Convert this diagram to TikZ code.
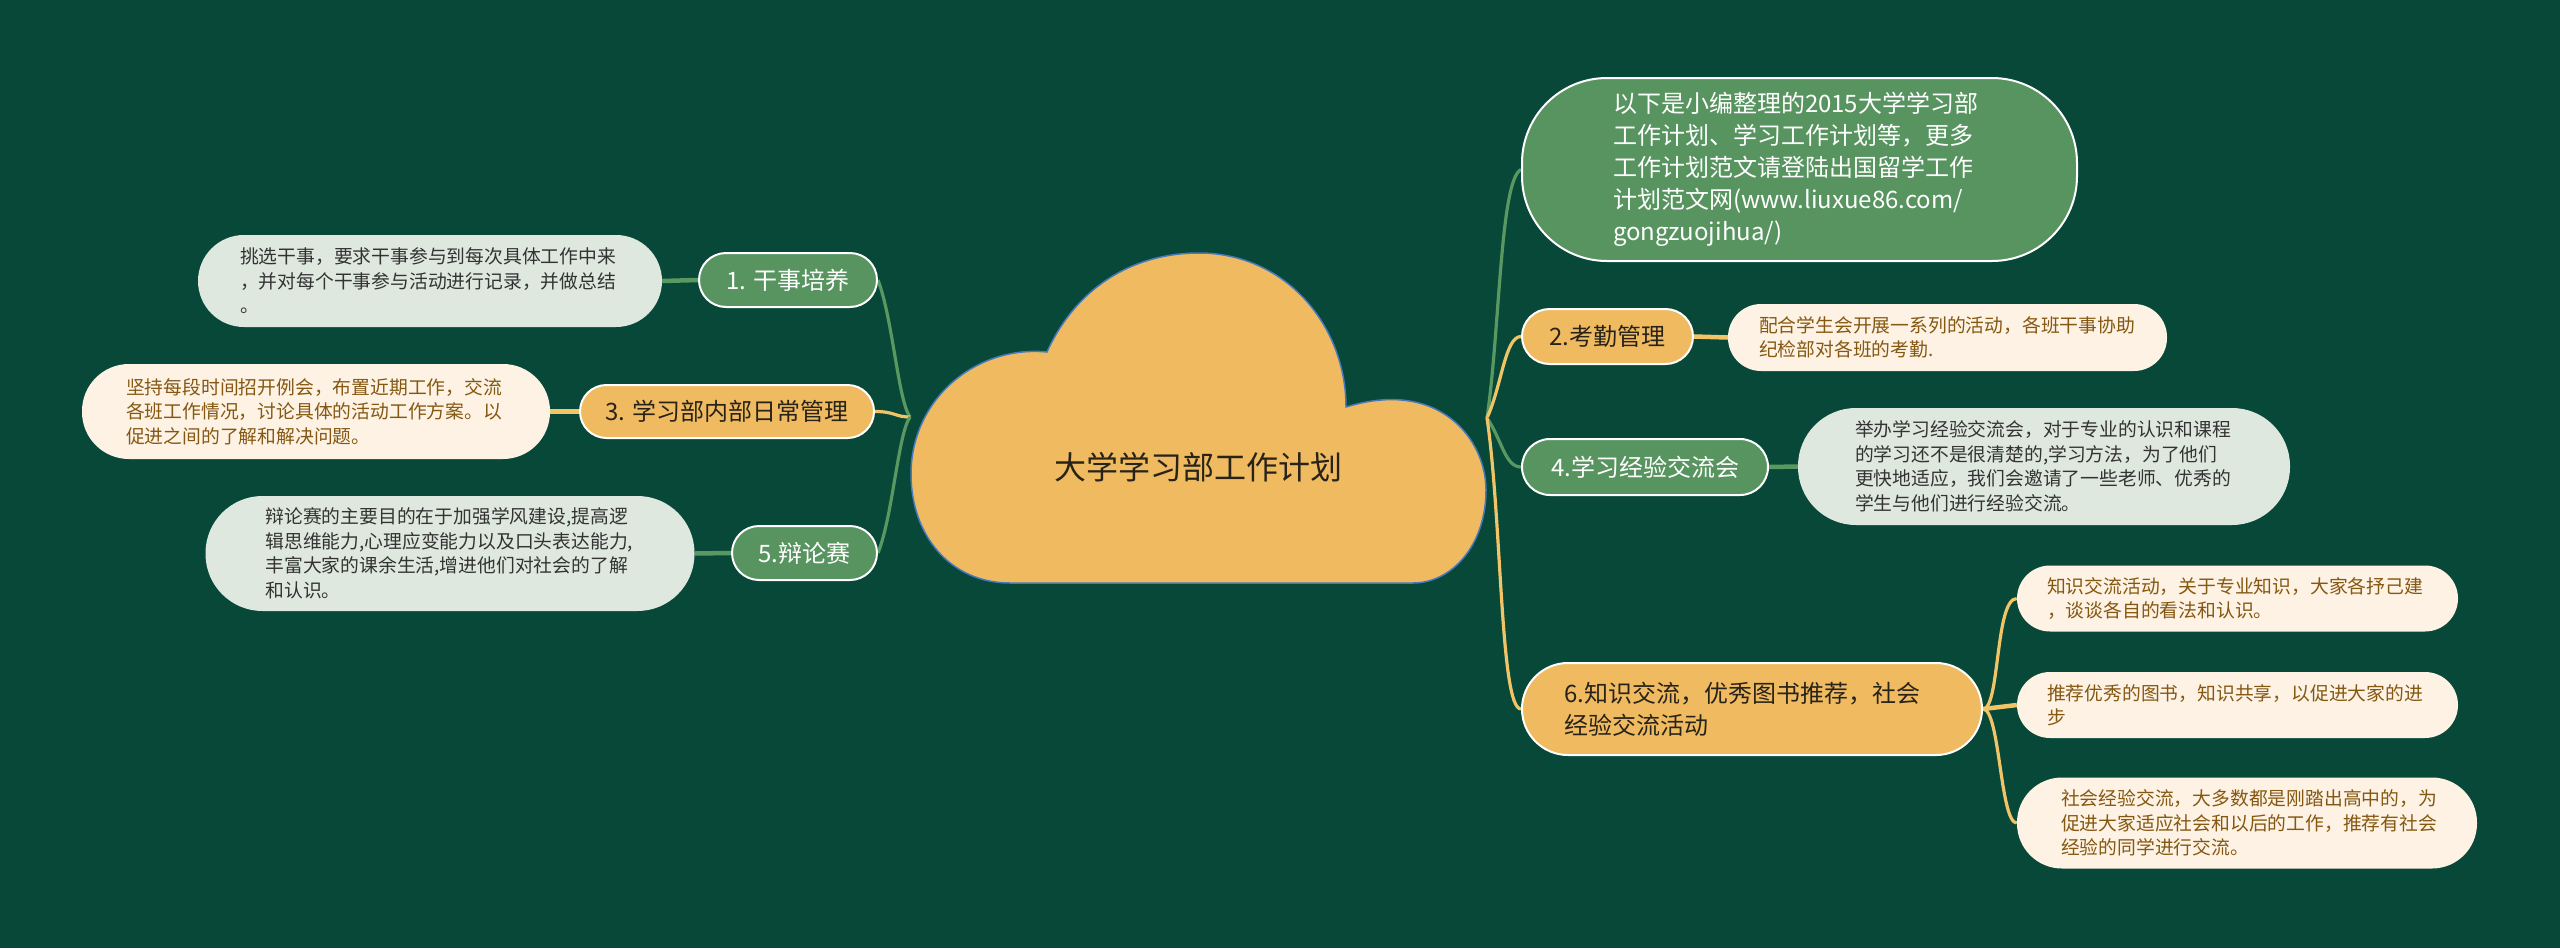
\documentclass[tikz,border=0pt]{standalone}
\usepackage{fontspec}
\newfontfamily\cjk{Noto Sans CJK SC}
\definecolor{bgc}{RGB}{7,72,57}
\definecolor{ngreen}{RGB}{88,148,96}
\definecolor{norange}{RGB}{240,187,96}
\definecolor{lgreen}{RGB}{222,232,223}
\definecolor{cream}{RGB}{253,242,227}
\definecolor{brownt}{RGB}{133,88,18}
\definecolor{ltext}{RGB}{51,51,51}
\definecolor{ntext}{RGB}{40,35,25}
\definecolor{cgreen}{RGB}{90,152,98}
\definecolor{corange}{RGB}{242,196,104}
\definecolor{cloudblue}{RGB}{70,120,190}
\pgfdeclarelayer{back}
\pgfsetlayers{back,main}
\tikzset{
  pill/.style={draw=white, line width=2pt, inner sep=0pt},
  mainfont/.style={font=\cjk\fontsize{24}{32}\selectfont},
  greenbox/.style={pill, mainfont, fill=ngreen, text=white, align=center},
  orangebox/.style={pill, mainfont, fill=norange, text=ntext, align=center},
  leafbox/.style={inner ysep=0pt, align=left, font=\cjk\fontsize{18.8}{24.5}\selectfont},
  lgleaf/.style={leafbox, fill=lgreen, text=ltext},
  crleaf/.style={leafbox, fill=cream, text=brownt},
  glink/.style={draw=cgreen, line width=3.2pt},
  olink/.style={draw=corange, line width=3.2pt},
  glinkb/.style={draw=cgreen, line width=4.5pt},
  olinkb/.style={draw=corange, line width=4.5pt},
}
\begin{document}
\begin{tikzpicture}[x=1pt,y=-1pt]
\useasboundingbox (0,0) rectangle (2560,948);
\begin{pgfonlayer}{back}
\fill[bgc] (0,0) rectangle (2560,948);
\end{pgfonlayer}
% cloud
\draw[fill=norange, draw=cloudblue, line width=1.5pt]
  (1010,583) .. controls (950,583) and (911,535) .. (911,474)
  .. controls (911,400) and (975,345) .. (1047,352)
  .. controls (1075,290) and (1130,253) .. (1199,253)
  .. controls (1285,253) and (1346,325) .. (1346,407)
  .. controls (1440,378) and (1486,440) .. (1486,490)
  .. controls (1486,545) and (1452,583) .. (1413,583) -- cycle;
\node[font=\cjk\fontsize{32}{36}\selectfont, text=ntext] (root) at (1198,467) {大学学习部工作计划};
\coordinate (jl) at (910,417);
\coordinate (jr) at (1487,418);
% left branches
\node[greenbox, minimum width=178pt, minimum height=54pt, rounded corners=27pt] (n1) at (788,280) {1. 干事培养};
\node[lgleaf, text width=380pt, inner xsep=42pt, minimum height=92pt, rounded corners=46pt] (l1) at (430,281)
  {挑选干事，要求干事参与到每次具体工作中来\\，并对每个干事参与活动进行记录，并做总结\\。};
\node[orangebox, minimum width=294pt, minimum height=53pt, rounded corners=26.5pt] (n3) at (727,411.5) {3. 学习部内部日常管理};
\node[crleaf, text width=380pt, inner xsep=44pt, minimum height=95pt, rounded corners=47pt] (l3) at (316,411.5)
  {坚持每段时间招开例会，布置近期工作，交流\\各班工作情况，讨论具体的活动工作方案。以\\促进之间的了解和解决问题。};
\node[greenbox, minimum width=145pt, minimum height=54pt, rounded corners=27pt] (n5) at (804.5,553) {5.辩论赛};
\node[lgleaf, text width=369pt, inner xsep=60pt, minimum height=115pt, rounded corners=57pt] (l5) at (450,553.5)
  {辩论赛的主要目的在于加强学风建设,提高逻\\辑思维能力,心理应变能力以及口头表达能力,\\丰富大家的课余生活,增进他们对社会的了解\\和认识。};
% right branches
\node[pill, mainfont, fill=ngreen, text=white, align=left, text width=373pt, inner xsep=91pt, minimum height=183pt, rounded corners=85pt] (a) at (1799.5,169.5)
  {以下是小编整理的2015大学学习部\\工作计划、学习工作计划等，更多\\工作计划范文请登陆出国留学工作\\计划范文网(www.liuxue86.com/\\gongzuojihua/)};
\node[orangebox, minimum width=171pt, minimum height=55pt, rounded corners=27.5pt] (b) at (1607.5,336.5) {2.考勤管理};
\node[crleaf, text width=377pt, inner xsep=31pt, minimum height=67pt, rounded corners=33pt] (lb) at (1947.5,337.5)
  {配合学生会开展一系列的活动，各班干事协助\\纪检部对各班的考勤.};
\node[greenbox, minimum width=246pt, minimum height=56pt, rounded corners=28pt] (c) at (1645,467) {4.学习经验交流会};
\node[lgleaf, text width=378pt, inner xsep=57pt, minimum height=117pt, rounded corners=58pt] (lc) at (2044,466.5)
  {举办学习经验交流会，对于专业的认识和课程\\的学习还不是很清楚的,学习方法，为了他们\\更快地适应，我们会邀请了一些老师、优秀的\\学生与他们进行经验交流。};
\node[pill, mainfont, fill=norange, text=ntext, align=left, text width=376pt, inner xsep=42pt, minimum height=92pt, rounded corners=46pt] (d) at (1752,709)
  {6.知识交流，优秀图书推荐，社会\\经验交流活动};
\node[crleaf, text width=381pt, inner xsep=30pt, minimum height=66pt, rounded corners=33pt] (d1) at (2237.5,598.5)
  {知识交流活动，关于专业知识，大家各抒己建\\，谈谈各自的看法和认识。};
\node[crleaf, text width=381pt, inner xsep=30pt, minimum height=66pt, rounded corners=33pt] (d2) at (2237.5,705)
  {推荐优秀的图书，知识共享，以促进大家的进\\步};
\node[crleaf, text width=372pt, inner xsep=44pt, minimum height=91pt, rounded corners=45pt] (d3) at (2247,823)
  {社会经验交流，大多数都是刚踏出高中的，为\\促进大家适应社会和以后的工作，推荐有社会\\经验的同学进行交流。};
% connectors
\begin{pgfonlayer}{back}
\draw[glink] (jl) .. controls (898,400) and (893,320) .. (n1.east);
\draw[olink] (jl) .. controls (895,417) and (895,411.5) .. (n3.east);
\draw[glink] (jl) .. controls (898,434) and (893,515) .. (n5.east);
\draw[glinkb] (n1.west) -- (l1.east);
\draw[olinkb] (n3.west) -- (l3.east);
\draw[glinkb] (n5.west) -- (l5.east);
\draw[glink] (jr) .. controls (1500,330) and (1500,180) .. (a.west);
\draw[olink] (jr) .. controls (1502,385) and (1505,336.5) .. (b.west);
\draw[glink] (jr) .. controls (1502,440) and (1505,467) .. (c.west);
\draw[olink] (jr) .. controls (1502,520) and (1500,709) .. (d.west);
\draw[olinkb] (b.east) -- (lb.west);
\draw[glinkb] (c.east) -- (lc.west);
\draw[olink] (d.east) .. controls (2000,709) and (1995,598.5) .. (d1.west);
\draw[olinkb] (d.east) -- (d2.west);
\draw[olink] (d.east) .. controls (2000,709) and (2000,823) .. (d3.west);
\end{pgfonlayer}
\end{tikzpicture}
\end{document}
